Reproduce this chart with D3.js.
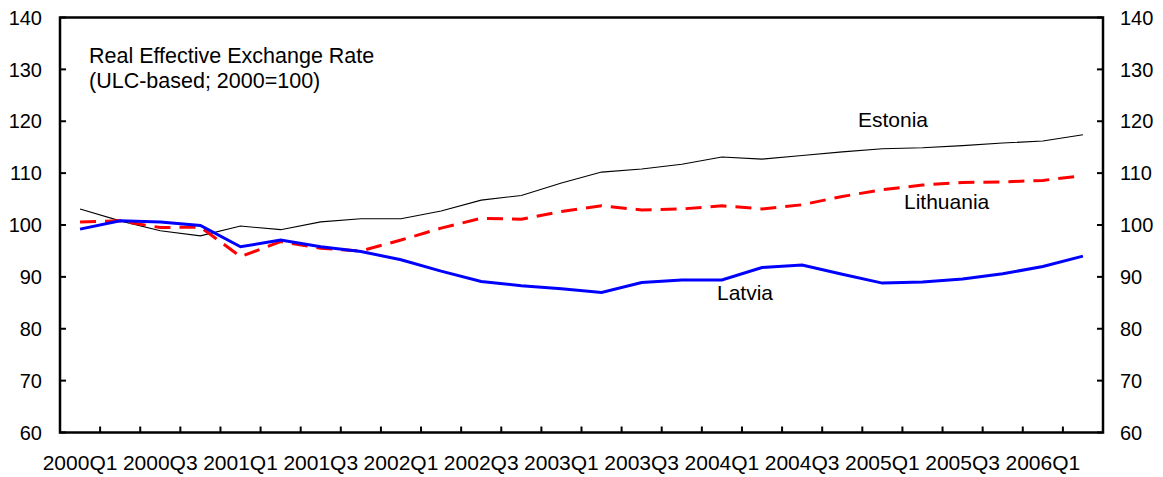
<!DOCTYPE html>
<html>
<head>
<meta charset="utf-8">
<script src="https://cdn.jsdelivr.net/npm/d3@7"></script>
<style>
  body { margin: 0; background: #fff; }
  text { font-family: "Liberation Sans", Arial, sans-serif; fill: #000; }
</style>
</head>
<body>
<svg id="chart" width="1163" height="477"></svg>
<script>
const quarters = [
  "2000Q1","2000Q2","2000Q3","2000Q4",
  "2001Q1","2001Q2","2001Q3","2001Q4",
  "2002Q1","2002Q2","2002Q3","2002Q4",
  "2003Q1","2003Q2","2003Q3","2003Q4",
  "2004Q1","2004Q2","2004Q3","2004Q4",
  "2005Q1","2005Q2","2005Q3","2005Q4",
  "2006Q1","2006Q2"
];
const estonia = [103.1,100.8,98.9,97.9,99.8,99.1,100.6,101.2,101.2,102.7,104.8,105.7,108.1,110.2,110.8,111.7,113.1,112.7,113.4,114.1,114.7,114.9,115.3,115.8,116.2,117.4];
const lithuania = [100.6,100.8,99.5,99.6,93.9,96.8,95.5,95.0,97.1,99.4,101.3,101.1,102.6,103.7,102.9,103.1,103.7,103.1,103.9,105.5,106.8,107.7,108.2,108.3,108.6,109.5];
const latvia = [99.2,100.8,100.6,99.9,95.8,97.1,95.8,94.9,93.3,91.1,89.1,88.3,87.7,87.0,88.9,89.4,89.4,91.8,92.3,90.5,88.8,89.0,89.6,90.6,92.0,94.0];
const yTicks = [60,70,80,90,100,110,120,130,140];
const xTickLabels = quarters.filter((q, i) => i % 2 === 0);
const titleLines = ["Real Effective Exchange Rate", "(ULC-based; 2000=100)"];

(function () {
const svg = d3.select("#chart");
const mLeft = 60, mRight = 1103, mTop = 17.5, mBottom = 432.5;

const x = d3.scaleBand().domain(quarters).range([mLeft, mRight]).padding(0);
const y = d3.scaleLinear().domain([60, 140]).range([mBottom, mTop]);

const line = d3.line()
  .x((d, i) => x(quarters[i]) + x.bandwidth() / 2)
  .y(d => y(d));

svg.append("path").datum(estonia)
  .attr("d", line).attr("fill", "none")
  .attr("stroke", "#000").attr("stroke-width", 1.1);
svg.append("path").datum(lithuania)
  .attr("d", line).attr("fill", "none")
  .attr("stroke", "#ff0000").attr("stroke-width", 3)
  .attr("stroke-dasharray", "16,9");
svg.append("path").datum(latvia)
  .attr("d", line).attr("fill", "none")
  .attr("stroke", "#0000ff").attr("stroke-width", 3);

svg.append("rect")
  .attr("x", mLeft).attr("y", mTop)
  .attr("width", mRight - mLeft).attr("height", mBottom - mTop)
  .attr("fill", "none").attr("stroke", "#000").attr("stroke-width", 2.5);

const yt = svg.append("g");
yTicks.forEach(v => {
  yt.append("line").attr("x1", mLeft).attr("x2", mLeft + 6)
    .attr("y1", y(v)).attr("y2", y(v)).attr("stroke", "#000").attr("stroke-width", 2);
  yt.append("line").attr("x1", mRight - 6).attr("x2", mRight)
    .attr("y1", y(v)).attr("y2", y(v)).attr("stroke", "#000").attr("stroke-width", 2);
  yt.append("text").attr("x", 42).attr("y", y(v)).attr("dy", "0.36em")
    .attr("text-anchor", "end").attr("font-size", 20).text(v);
  yt.append("text").attr("x", 1120).attr("y", y(v)).attr("dy", "0.36em")
    .attr("text-anchor", "start").attr("font-size", 20).text(v);
});

const xt = svg.append("g");
quarters.slice(1).forEach(q => {
  const px = x(q);
  xt.append("line").attr("x1", px).attr("x2", px)
    .attr("y1", mBottom).attr("y2", mBottom - 6)
    .attr("stroke", "#000").attr("stroke-width", 2);
});
xTickLabels.forEach(q => {
  xt.append("text").attr("x", x(q) + x.bandwidth() / 2).attr("y", 470)
    .attr("text-anchor", "middle").attr("font-size", 21).text(q);
});

titleLines.forEach((t, i) => {
  svg.append("text").attr("x", 89).attr("y", 63 + i * 25)
    .attr("font-size", 21.5).text(t);
});

svg.append("text").attr("x", 858).attr("y", 127).attr("font-size", 21).text("Estonia");
svg.append("text").attr("x", 904).attr("y", 209).attr("font-size", 21).text("Lithuania");
svg.append("text").attr("x", 717).attr("y", 300).attr("font-size", 21).text("Latvia");
})();
</script>
</body>
</html>
